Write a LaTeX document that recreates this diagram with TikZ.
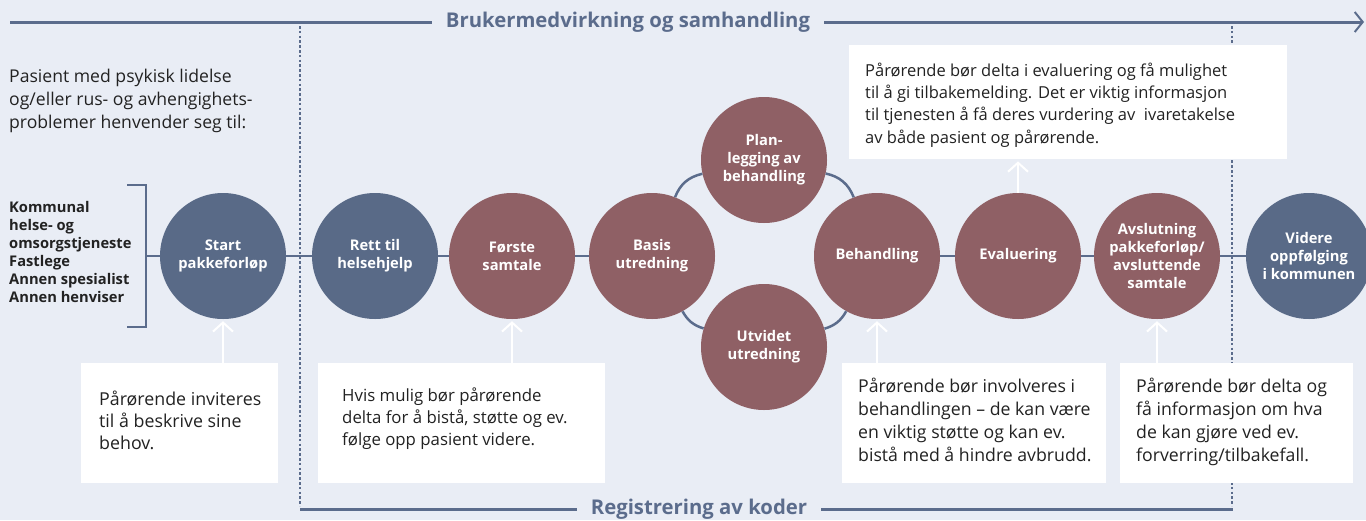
\documentclass[tikz,border=0pt]{standalone}
\usepackage{fontspec}
\setmainfont{Open Sans}
\usetikzlibrary{arrows.meta}
\definecolor{bg}{RGB}{233,237,245}
\definecolor{navy}{RGB}{89,106,135}
\definecolor{wine}{RGB}{143,96,101}
\definecolor{linec}{RGB}{91,108,140}
\definecolor{txt}{RGB}{34,34,34}
\tikzset{
 stage/.style={circle, minimum size=126pt, inner sep=0pt, text=white, align=center, font=\fontsize{14.7}{18}\selectfont\bfseries},
 bluestage/.style={stage, fill=navy},
 redstage/.style={stage, fill=wine},
 notebox/.style={fill=white, inner sep=0pt, anchor=north west},
 notetext/.style={anchor=base west, align=left, inner sep=0pt, text=txt},
 link/.style={draw=linec, line width=2.5pt},
 frameline/.style={draw=linec, line width=3pt},
 dotline/.style={draw=linec, line width=2.5pt, dash pattern=on 2.5pt off 2.3pt},
 upArrow/.style={draw=white, line width=2pt, -{Straight Barb[length=9pt, width=20pt, line width=2pt]}, shorten >=2pt},
 bandtitle/.style={font=\fontsize{20.3}{24}\selectfont\bfseries, text=linec, inner xsep=14pt, inner ysep=0pt},
}
\begin{document}
\begin{tikzpicture}[x=1pt,y=-1pt]
\fill[bg] (0,0) rectangle (1366,520);
\useasboundingbox (0,0) rectangle (1366,520);
\clip (0,0) rectangle (1366,520);

% frame: top band
\coordinate (tl) at (10,22);
\coordinate (tr) at (1364,22);
\node[bandtitle] (ttl) at (628,22) {Brukermedvirkning og samhandling};
\draw[frameline] (tl) -- (ttl.west);
\draw[frameline, -{Straight Barb[length=8pt, width=20pt, line width=2pt]}] (ttl.east) -- (tr);

% dotted verticals
\coordinate (dl1) at (300,26);
\coordinate (dl2) at (300,506);
\coordinate (dr1) at (1232,26);
\coordinate (dr2) at (1232,506);
\draw[dotline] (dl1) -- (dl2);
\draw[dotline] (dr1) -- (dr2);

% bottom band
\coordinate (bl) at (300,509);
\coordinate (br) at (1233,509);
\node[bandtitle] (btl) at (699,509) {Registrering av koder};
\draw[frameline] (bl) -- (btl.west);
\draw[frameline] (btl.east) -- (br);

% intro text (anchored at last baseline)
\node[notetext, font=\fontsize{17.6}{23}\selectfont] (intro) at (9,128) {Pasient med psykisk lidelse\\og/eller rus- og avhengighets-\\problemer henvender seg til:};
\node[notetext, font=\fontsize{14.7}{18}\selectfont\bfseries] (refs) at (9,302) {Kommunal\\helse- og\\omsorgstjeneste\\Fastlege\\Annen spesialist\\Annen henviser};

% stages
\node[bluestage] (start) at (223,256) {Start\\pakkeforløp};
\node[bluestage] (rett) at (375,256) {Rett til\\helsehjelp};
\node[redstage] (forste) at (512,256) {Første\\samtale};
\node[redstage] (basis) at (652,256) {Basis\\utredning};
\node[redstage] (plan) at (764,160) {Plan-\\legging av\\behandling};
\node[redstage] (utv) at (764,347) {Utvidet\\utredning};
\node[redstage] (beh) at (877,256) {Behandling};
\node[redstage] (eval) at (1018,256) {Evaluering};
\node[redstage] (avsl) at (1157,256) {Avslutning\\pakkeforløp/\\avsluttende\\samtale};
\node[bluestage] (videre) at (1309,256) {Videre\\oppfølging\\i kommunen};

% bracket
\coordinate (b1) at (127,185);
\coordinate (b2) at (146,185);
\coordinate (b3) at (146,327);
\coordinate (b4) at (127,327);
\coordinate (bm) at (146,256);
\draw[link] (b1) -- (b2) -- (b3) -- (b4);

% links
\draw[link] (bm) -- (start);
\draw[link] (start) -- (rett);
\draw[link] (rett) -- (forste);
\draw[link] (forste) -- (basis);
\draw[link] (basis) to[bend left=28] (plan);
\draw[link] (plan) to[bend left=28] (beh);
\draw[link] (basis) to[bend right=22] (utv);
\draw[link] (utv) to[bend right=22] (beh);
\draw[link] (beh) -- (eval);
\draw[link] (eval) -- (avsl);
\draw[link] (avsl) -- (videre);

% notes
\node[notebox, minimum width=197pt, minimum height=120pt] (n1) at (81,363) {};
\node[notetext, font=\fontsize{17.8}{22}\selectfont] (t1) at (99,449) {Pårørende inviteres\\til å beskrive sine\\behov.};
\node[notebox, minimum width=287pt, minimum height=120pt] (n2) at (318,363) {};
\node[notetext, font=\fontsize{16.8}{22}\selectfont] (t2) at (342,445) {Hvis mulig bør pårørende\\delta for å bistå, støtte og ev.\\følge opp pasient videre.};
\node[notebox, minimum width=264pt, minimum height=120pt] (n3) at (842,363) {};
\node[notetext, font=\fontsize{17.7}{22.7}\selectfont] (t3) at (858,461) {Pårørende bør involveres i\\behandlingen – de kan være\\en viktig støtte og kan ev.\\bistå med å hindre avbrudd.};
\node[notebox, minimum width=233pt, minimum height=120pt] (n4) at (1120,363) {};
\node[notetext, font=\fontsize{17.7}{22.7}\selectfont] (t4) at (1136,461) {Pårørende bør delta og\\få informasjon om hva\\de kan gjøre ved ev.\\forverring/tilbakefall.};
\node[notebox, minimum width=438pt, minimum height=114pt] (n5) at (849,45) {};
\node[notetext, font=\fontsize{16.5}{22.2}\selectfont] (t5) at (865,143) {Pårørende bør delta i evaluering og få mulighet\\til å gi tilbakemelding. Det er viktig informasjon\\til tjenesten å få deres vurdering av \ ivaretakelse\\av både pasient og pårørende.};

% arrows
\draw[upArrow] (start.south |- n1.north) -- (start.south);
\draw[upArrow] (forste.south |- n2.north) -- (forste.south);
\draw[upArrow] (beh.south |- n3.north) -- (beh.south);
\draw[upArrow] (avsl.south |- n4.north) -- (avsl.south);
\draw[upArrow] (eval.north) -- (eval.north |- n5.south);
\end{tikzpicture}
\end{document}
